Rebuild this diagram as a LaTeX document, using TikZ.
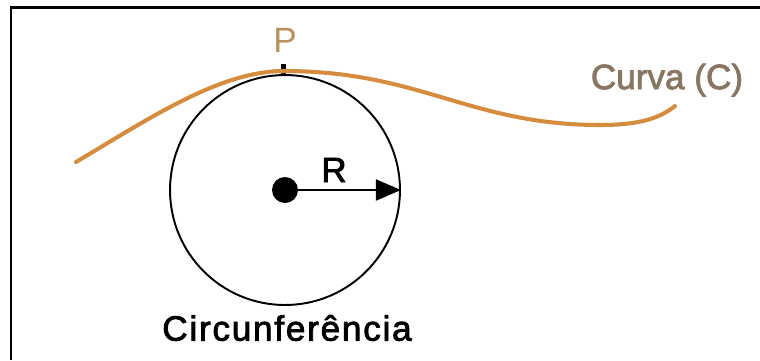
\documentclass[tikz,border=0pt]{standalone}
\usepackage{fontspec}
\setmainfont{Liberation Sans}
\usetikzlibrary{arrows.meta}
\definecolor{curveorange}{RGB}{214,140,62}
\definecolor{pointtan}{RGB}{184,146,92}
\definecolor{labelbrown}{RGB}{135,118,100}
\tikzset{
    lbl/.style={font=\fontsize{20}{24}\selectfont, inner sep=0pt},
    heavy/.style={font=\fontsize{20}{24}\selectfont\addfontfeatures{FakeBold=2.2}},
    centerdot/.style={circle, fill=black, minimum size=0.52cm, inner sep=0pt},
    tickmark/.style={fill=black, minimum width=0.1cm, minimum height=0.22cm, inner sep=0pt}
}
\begin{document}
\begin{tikzpicture}[x=0.02cm, y=-0.02cm]
    \useasboundingbox (0,0) rectangle (760,360);

    % Frame (left and top edges)
    \draw[line width=1.7pt] (11,360) -- (11,7) -- (760,7);

    % Circle with centre and radius
    \node[circle, draw, line width=1.1pt, minimum size=4.6cm, inner sep=0pt] (circ) at (285,190) {};
    \node[centerdot] (O) at (285,190) {};
    \draw[-{Triangle[length=0.5cm, width=0.42cm]}, line width=1.1pt] (O.center) -- (circ.east);
    \node[lbl, heavy] (Rlabel) at (334,170) {R};
    \node[lbl, heavy] (Clabel) at (287,328) {\addfontfeatures{LetterSpace=5}Circunferência};

    % Curve (C), tangent to the circle at P
    \node[tickmark] (Ptick) at (283,69) {};
    \draw[curveorange, line width=2.3pt, line cap=round]
        (76,162) .. controls (150,118) and (220,71) .. (284,71)
        .. controls (420,71) and (470,125) .. (600,125)
        .. controls (640,125) and (660,118) .. (675,106);
    \node[lbl, pointtan] (Plabel) at (285,40) {P};
    \node[lbl, labelbrown, heavy] (Curvelabel) at (667,80) {Curva (C)};
\end{tikzpicture}
\end{document}
